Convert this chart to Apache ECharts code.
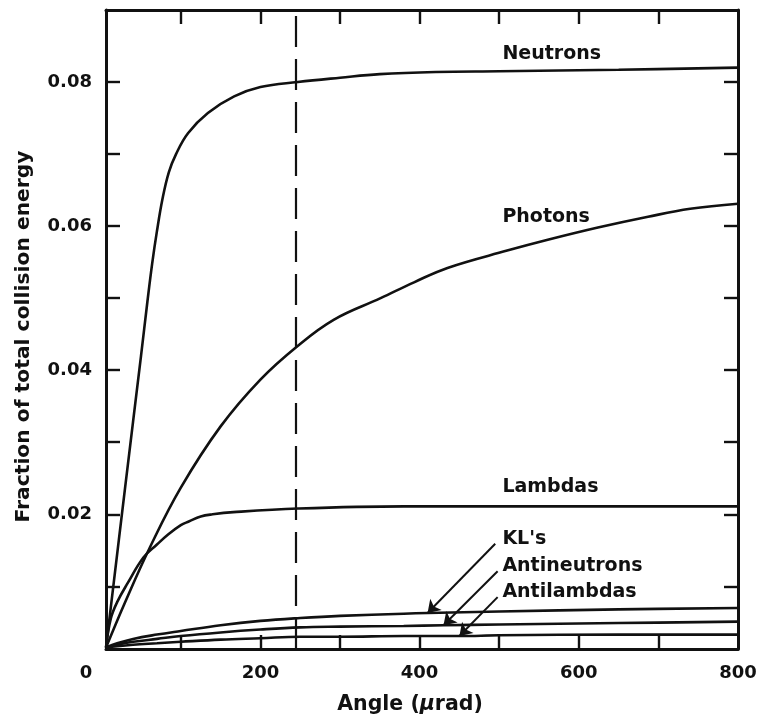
<!DOCTYPE html>
<html>
<head>
<meta charset="utf-8">
<script src="https://cdn.jsdelivr.net/npm/echarts@6/dist/echarts.min.js"></script>
<style>
  html, body { margin: 0; padding: 0; background: #ffffff; }
  #chart { width: 760px; height: 720px; }
</style>
</head>
<body>
<div id="chart"></div>
<script>
// Axis ranges (angle in microradians, fraction of total collision energy)
const angleMin = 6, angleMax = 800;
const fracMin = 0.0013, fracMax = 0.09;
const angleTicks = [100, 200, 300, 400, 500, 600, 700];
const angleLabels = [6, 200, 400, 600, 800];
const fracTicks = [0.01, 0.02, 0.03, 0.04, 0.05, 0.06, 0.07, 0.08];
const fracLabels = [0.02, 0.04, 0.06, 0.08];
const cutAngle = 245;

// Curves
const neutronAngle = [6, 30, 50, 58, 64, 70, 77, 85, 94, 109, 134, 167, 200, 247, 300, 350, 420, 500, 650, 800];
const neutronFrac  = [0.0015, 0.0237, 0.0420, 0.0495, 0.0548, 0.0593, 0.0638, 0.0675, 0.0700, 0.0729, 0.0757, 0.0780, 0.0793, 0.0800, 0.0806, 0.0811, 0.0814, 0.0815, 0.0817, 0.0820];

const photonAngle = [6, 30, 62, 100, 150, 200, 246, 292, 351, 393, 435, 510, 561, 624, 687, 740, 800];
const photonFrac  = [0.0015, 0.0078, 0.0156, 0.0237, 0.0322, 0.0387, 0.0433, 0.0470, 0.0500, 0.0522, 0.0542, 0.0566, 0.0581, 0.0598, 0.0613, 0.0624, 0.0631];

const lambdaAngle = [6, 12, 20, 33, 53, 70, 84, 100, 110, 125, 140, 166, 247, 380, 500, 800];
const lambdaFrac  = [0.0015, 0.0055, 0.0078, 0.0104, 0.0140, 0.0158, 0.0172, 0.0185, 0.0190, 0.0197, 0.0200, 0.0203, 0.0208, 0.0211, 0.0211, 0.0211];

const klAngle = [6, 20, 40, 70, 100, 150, 200, 250, 300, 380, 410, 500, 650, 800];
const klFrac  = [0.0015, 0.0021, 0.0027, 0.0033, 0.0038, 0.0046, 0.0052, 0.0056, 0.0059, 0.0062, 0.0063, 0.0065, 0.0068, 0.0070];

const antineutronAngle = [6, 20, 40, 70, 100, 150, 200, 250, 300, 380, 430, 500, 650, 800];
const antineutronFrac  = [0.0015, 0.0019, 0.0023, 0.0027, 0.0031, 0.0036, 0.0040, 0.0043, 0.0044, 0.0045, 0.0046, 0.0047, 0.0049, 0.0051];

const antilambdaAngle = [6, 20, 40, 70, 100, 150, 200, 250, 300, 380, 450, 500, 650, 800];
const antilambdaFrac  = [0.0015, 0.0017, 0.0019, 0.0021, 0.0023, 0.0026, 0.0028, 0.0030, 0.0030, 0.0031, 0.0031, 0.0032, 0.0033, 0.0033];

// Curve names and where their captions sit
const curveNames = ['Neutrons', 'Photons', 'Lambdas', "KL's", 'Antineutrons', 'Antilambdas'];
const captionAngle = 504;
const captionFrac = [0.0839, 0.0613, 0.0238, 0.01655, 0.0128, 0.0092];
// Pointer arrows for the three low curves: tail position and the angle where the tip lands
const arrowTailAngle = [495, 498, 498];
const arrowTailFrac = [0.0159, 0.0121, 0.0085];
const arrowTipAngle = [410, 430, 450];

const FONT = 'DejaVu Sans';
const INK = '#111111';

function pairs(xs, ys) { return xs.map((x, i) => [x, ys[i]]); }
function valueAt(xs, ys, x) { return ys[xs.indexOf(x)]; }

const curveSets = [
  [neutronAngle, neutronFrac],
  [photonAngle, photonFrac],
  [lambdaAngle, lambdaFrac],
  [klAngle, klFrac],
  [antineutronAngle, antineutronFrac],
  [antilambdaAngle, antilambdaFrac]
];

const captionStyle = { fontFamily: FONT, fontWeight: 'bold', fontSize: 19, color: INK };

const series = curveSets.map((set, i) => {
  const s = {
    name: curveNames[i],
    type: 'line',
    data: pairs(set[0], set[1]),
    showSymbol: false,
    smooth: 0.4,
    lineStyle: { color: INK, width: 2.6 },
    z: 3,
    markPoint: {
      symbol: 'circle', symbolSize: 0, silent: true,
      data: [{
        coord: [captionAngle, captionFrac[i]],
        label: Object.assign({ show: true, position: 'right', distance: 0, formatter: curveNames[i] }, captionStyle)
      }]
    }
  };
  if (i >= 3) {
    const k = i - 3;
    s.markLine = {
      silent: true,
      symbol: ['none', 'arrow'],
      symbolSize: 12,
      label: { show: false },
      lineStyle: { color: INK, width: 2, type: 'solid' },
      data: [[
        { coord: [arrowTailAngle[k], arrowTailFrac[k]] },
        { coord: [arrowTipAngle[k], valueAt(set[0], set[1], arrowTipAngle[k])] }
      ]]
    };
  }
  if (i === 0) {
    s.markLine = {
      silent: true,
      symbol: ['none', 'none'],
      label: { show: false },
      lineStyle: { color: INK, width: 2.2, type: [31, 12] },
      data: [{ xAxis: cutAngle }]
    };
  }
  return s;
});

const axisLine = { show: true, onZero: false, lineStyle: { color: INK, width: 3 } };
const tickStyle = { show: true, inside: true, length: 14, lineStyle: { color: INK, width: 2.4 } };
const labelStyle = { fontFamily: FONT, fontWeight: 'bold', fontSize: 18, color: INK };

const chart = echarts.init(document.getElementById('chart'), null, { renderer: 'canvas' });
chart.setOption({
  animation: false,
  backgroundColor: '#ffffff',
  grid: { left: 106, right: 22, top: 10, bottom: 70 },
  xAxis: [
    {
      type: 'value', position: 'bottom', min: angleMin, max: angleMax,
      axisLine: axisLine,
      axisTick: Object.assign({ customValues: angleTicks }, tickStyle),
      splitLine: { show: false },
      axisLabel: Object.assign({
        customValues: angleLabels, margin: 15,
        formatter: v => v === angleMin ? '{shift|0}' : String(v),
        rich: { shift: Object.assign({ padding: [0, 40, 0, 0] }, labelStyle) }
      }, labelStyle),
      name: 'Angle ({mu|\u00b5}rad)',
      nameLocation: 'middle', nameGap: 45,
      nameTextStyle: Object.assign({
        padding: [0, 24, 0, 0],
        rich: { mu: Object.assign({}, labelStyle, { fontStyle: 'italic', fontSize: 20.5 }) }
      }, labelStyle, { fontSize: 20.5 })
    },
    {
      type: 'value', position: 'top', min: angleMin, max: angleMax,
      axisLine: axisLine,
      axisTick: Object.assign({ customValues: angleTicks }, tickStyle),
      axisLabel: { show: false }, splitLine: { show: false }
    }
  ],
  yAxis: [
    {
      type: 'value', position: 'left', min: fracMin, max: fracMax,
      axisLine: axisLine,
      axisTick: Object.assign({ customValues: fracTicks }, tickStyle),
      splitLine: { show: false },
      axisLabel: Object.assign({ customValues: fracLabels, margin: 14, formatter: v => v.toFixed(2) }, labelStyle),
      name: 'Fraction of total collision energy',
      nameLocation: 'middle', nameGap: 72,
      nameTextStyle: Object.assign({ padding: [0, 14, 0, 0] }, labelStyle, { fontSize: 20.3 })
    },
    {
      type: 'value', position: 'right', min: fracMin, max: fracMax,
      axisLine: axisLine,
      axisTick: Object.assign({ customValues: fracTicks }, tickStyle),
      axisLabel: { show: false }, splitLine: { show: false }
    }
  ],
  series: series
});
</script>
</body>
</html>
